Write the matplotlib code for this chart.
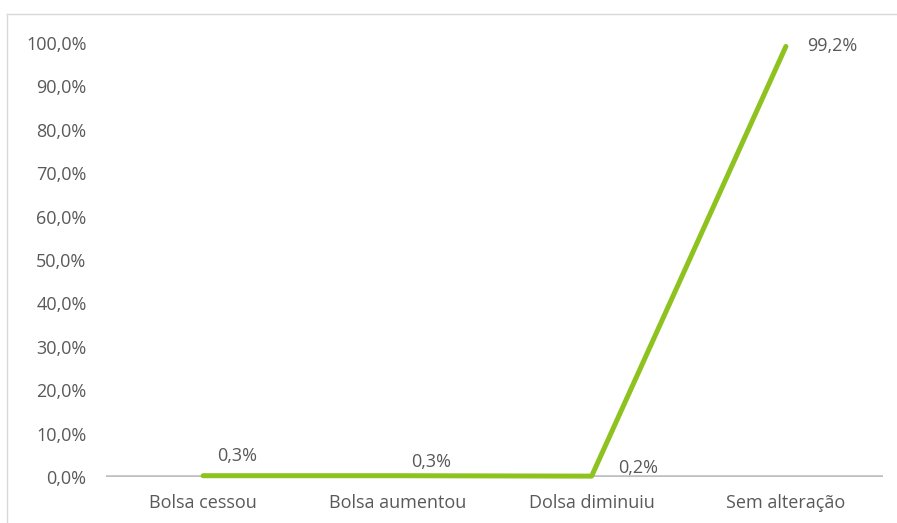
import matplotlib.pyplot as plt
from matplotlib.lines import Line2D
from matplotlib.ticker import FuncFormatter

categorias = ['Bolsa cessou', 'Bolsa aumentou', 'Dolsa diminuiu', 'Sem alteração']
valores = [0.3, 0.3, 0.2, 99.2]
rotulos = ['0,3%', '0,3%', '0,2%', '99,2%']
# deslocamento dos rotulos (pontos) em relacao a cada ponto
desloc = [(10, 14), (10, 10), (19, 6), (15, 0)]

plt.rcParams['font.family'] = ['Open Sans', 'DejaVu Sans']
cinza_txt = '#595959'
verde = '#8DC21F'

fig = plt.figure(figsize=(8.97, 5.23), dpi=100)
ax = fig.add_axes([106/897, 46/523, 777/897, 434/523])

x = list(range(len(categorias)))
ax.plot(x, valores, color=verde, linewidth=3.6, solid_capstyle='round',
        solid_joinstyle='round', clip_on=False, zorder=3)
ax.axhline(0, color='#BFBFBF', linewidth=2.6, zorder=2)

for xi, v, r, d in zip(x, valores, rotulos, desloc):
    ax.annotate(r, (xi, v), xytext=d, textcoords='offset points',
                ha='left', va='center', fontsize=13, color=cinza_txt)

ax.set_xlim(-0.5, 3.5)
ax.set_ylim(0, 100)
ax.set_yticks(range(0, 101, 10))
ax.yaxis.set_major_formatter(FuncFormatter(lambda v, p: f'{v:.1f}%'.replace('.', ',')))
ax.set_xticks(x)
ax.set_xticklabels(categorias)
ax.tick_params(axis='both', length=0, labelsize=13, labelcolor=cinza_txt)
ax.tick_params(axis='y', pad=14)
ax.tick_params(axis='x', pad=12)
for s in ax.spines.values():
    s.set_visible(False)

# moldura (so aparecem o lado esquerdo e o de cima)
fig.add_artist(Line2D([7/897, 7/897], [0, 1 - 14/523], transform=fig.transFigure,
                      color='#D9D9D9', linewidth=1))
fig.add_artist(Line2D([7/897, 1], [1 - 14/523, 1 - 14/523], transform=fig.transFigure,
                      color='#D9D9D9', linewidth=1))

fig.savefig('out.png', dpi=100)
